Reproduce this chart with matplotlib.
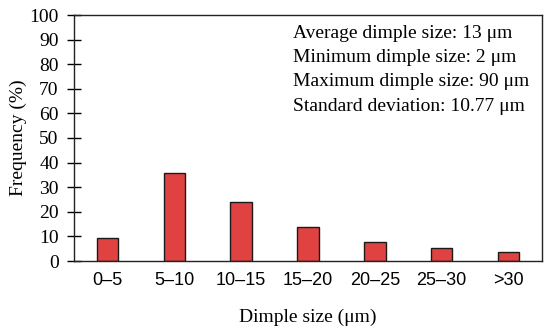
import matplotlib.pyplot as plt
import numpy as np

# Dimple size distribution
categories = ['0\u20135', '5\u201310', '10\u201315', '15\u201320', '20\u201325', '25\u201330', '>30']
frequency = [9.5, 35.8, 24.1, 13.8, 7.6, 5.2, 3.8]
stats_lines = [
    'Average dimple size: 13 \u03bcm',
    'Minimum dimple size: 2 \u03bcm',
    'Maximum dimple size: 90 \u03bcm',
    'Standard deviation: 10.77 \u03bcm',
]

serif = ['Liberation Serif', 'DejaVu Serif']
sans = ['Liberation Sans', 'DejaVu Sans']

fig = plt.figure(figsize=(5.5, 3.27), dpi=100)
ax = fig.add_axes([74 / 550, 1 - 261 / 327, 468 / 550, 246 / 327])

x = np.arange(len(categories))
ax.bar(x, frequency, width=0.32, color='#e04242', edgecolor='#1a1a1a', linewidth=1.0)

ax.set_xlim(-0.5, len(categories) - 0.5)
ax.set_ylim(0, 100)
ax.set_yticks(np.arange(0, 101, 10))
ax.set_xticks(x)
ax.set_xticklabels(categories, family=sans, fontsize=13)
for lab in ax.get_yticklabels():
    lab.set_family(serif)
    lab.set_fontsize(14)
ax.tick_params(axis='y', direction='inout', length=10, width=1, pad=6)
ax.tick_params(axis='x', length=0, pad=8)
for s in ax.spines.values():
    s.set_linewidth(1.0)
    s.set_color('#222222')

ax.set_xlabel('Dimple size (\u03bcm)', family=serif, fontsize=14, labelpad=14)
ax.set_ylabel('Frequency (%)', family=serif, fontsize=14, labelpad=2)

ax.text(0.468, 0.959, '\n'.join(stats_lines), transform=ax.transAxes,
        ha='left', va='top', family=serif, fontsize=14, linespacing=1.55)

fig.savefig('out.png', dpi=100)
